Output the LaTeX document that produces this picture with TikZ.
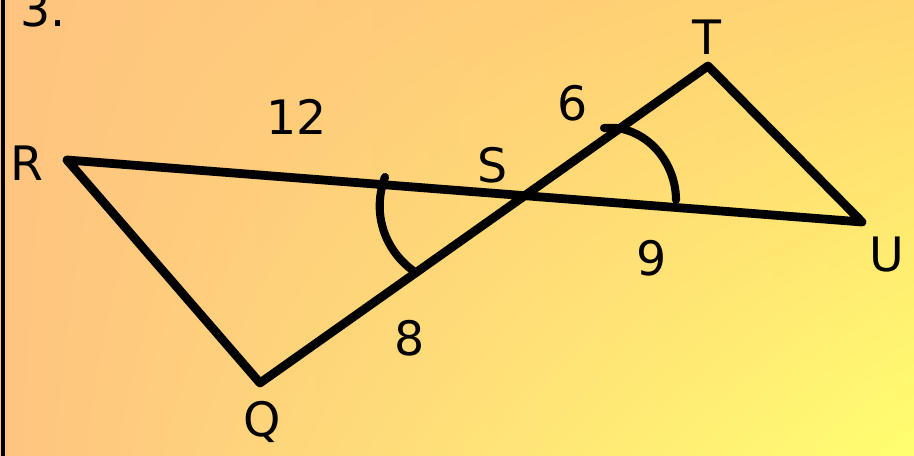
\documentclass[tikz,border=0pt]{standalone}
\usepackage{fontspec}
\setmainfont{DejaVu Sans}
\definecolor{bgorange}{RGB}{254,196,128}
\definecolor{bgamber}{RGB}{255,214,112}
\definecolor{bgyellow}{RGB}{255,255,112}
\usetikzlibrary{positioning,shadings}

\tikzset{
  seg/.style={line width=5pt,line cap=round,line join=round},
  anglemark/.style={line width=4.6pt,line cap=round},
  lbl/.style={font=\fontsize{27}{27}\selectfont,inner sep=0pt}
}

\begin{document}
\begin{tikzpicture}[x=0.02cm,y=-0.02cm]
  % background
  \shade[upper left=bgorange,lower left=bgorange,
         upper right=bgamber,lower right=bgyellow] (0,0) rectangle (914,456);
  \useasboundingbox (0,0) rectangle (914,456);
  \draw[line width=1.8pt] (3,0) -- (3,456);

  % vertices
  \coordinate (R) at (67,160);
  \coordinate (U) at (862,222);
  \coordinate (T) at (708,66);
  \coordinate (Q) at (260,383);
  \coordinate (S) at (intersection of R--U and Q--T);

  \draw[seg] (R) -- (U) -- (T) -- (Q) -- cycle;

  % angle marks
  \draw[anglemark] (385,177) .. controls (371,215) and (386,252) .. (415,272);
  \draw[anglemark] (604,128) -- (617,128) .. controls (652,133) and (676,166) .. (676,200);

  % labels
  \node[lbl] (num) at (43,9) {3.};
  \node[lbl] (lR) at (27,163) {R};
  \node[lbl] (lS) at (493,165) {S};
  \node[lbl] (lT) at (707,37) {T};
  \node[lbl] (lU) at (887,255) {U};
  \node[lbl] (lQ) at (262,422) {Q};
  \node[lbl] (len12) at (297,117) {12};
  \node[lbl] (len6) at (573,103) {6};
  \node[lbl] (len9) at (652,258) {9};
  \node[lbl] (len8) at (410,338) {8};
\end{tikzpicture}
\end{document}
